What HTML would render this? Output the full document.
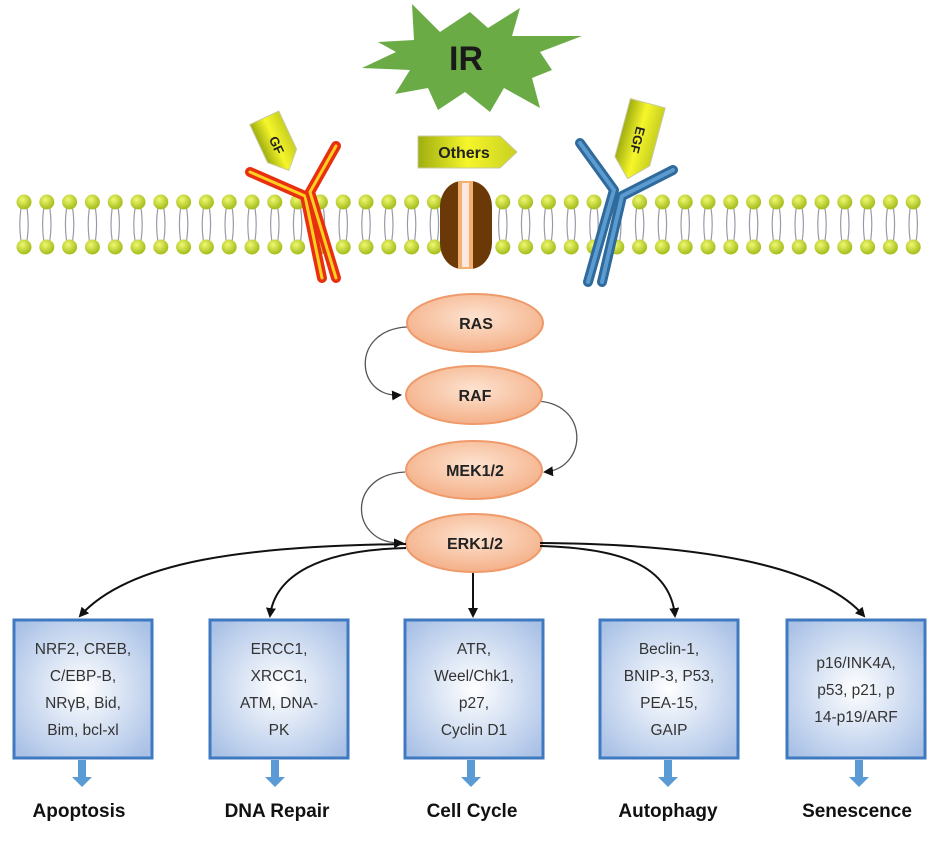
<!DOCTYPE html>
<html><head><meta charset="utf-8"><style>
html,body{margin:0;padding:0;background:#fff;}
svg{display:block;}
text{font-family:"Liberation Sans",sans-serif;}
</style></head><body>
<svg width="945" height="846" viewBox="0 0 945 846" xmlns="http://www.w3.org/2000/svg">
<defs>
<radialGradient id="bx" cx="50%" cy="50%" r="65%"><stop offset="0" stop-color="#ffffff"/><stop offset="1" stop-color="#a9c1e6"/></radialGradient>
<radialGradient id="el" cx="50%" cy="40%" r="60%"><stop offset="0" stop-color="#fde3d0"/><stop offset="1" stop-color="#f4b088"/></radialGradient>
<radialGradient id="hd" cx="40%" cy="35%" r="60%"><stop offset="0" stop-color="#f0f870"/><stop offset="1" stop-color="#a8c020"/></radialGradient>
<linearGradient id="tag" x1="0" y1="0" x2="1" y2="0"><stop offset="0" stop-color="#9fae10"/><stop offset="0.5" stop-color="#f6f62a"/><stop offset="1" stop-color="#c8d020"/></linearGradient>
<marker id="ar" markerWidth="10" markerHeight="10" refX="8" refY="5" orient="auto" markerUnits="userSpaceOnUse"><path d="M0,0 L10,5 L0,10 z" fill="#111"/></marker>
</defs>

<!-- IR star -->
<polygon points="412,4 440,32 470,12 488,28 520,8 512,36 582,36 540,52 552,70 532,78 540,108 504,88 490,112 465,92 438,110 428,88 395,94 410,70 362,68 396,52 378,42 414,40" fill="#6aab46"/>
<text x="466" y="70" font-size="34" font-weight="bold" text-anchor="middle" fill="#1a1a1a">IR</text>

<!-- membrane tails -->
<g stroke="#9a9aa8" stroke-width="1.2" fill="none">
<g id="tails">
</g>
</g>
<g id="mem"></g>
<script>
(function(){
var ns="http://www.w3.org/2000/svg",t=document.getElementById('tails'),m=document.getElementById('mem');
for(var x=24;x<=925;x+=22.8){
 for(var d=-3;d<=3;d+=6){var p=document.createElementNS(ns,'path');p.setAttribute('d','M'+(x+d)+',208 Q'+(x+d*1.8)+',224 '+(x+d)+',241');t.appendChild(p);}
 [202,247].forEach(function(y){var c=document.createElementNS(ns,'ellipse');c.setAttribute('cx',x);c.setAttribute('cy',y);c.setAttribute('rx',7.5);c.setAttribute('ry',7.5);c.setAttribute('fill','url(#hd)');m.appendChild(c);});
}
})();
</script>

<!-- GF receptor -->
<g fill="none" stroke-linecap="round" stroke-linejoin="round">
<polyline points="250,172 305,196 322,278" stroke="#e83010" stroke-width="10"/>
<polyline points="250,172 305,196 322,278" stroke="#ffd020" stroke-width="3"/>
<polyline points="336,146 310,192 336,278" stroke="#e83010" stroke-width="10"/>
<polyline points="336,146 310,192 336,278" stroke="#ffd020" stroke-width="3"/>
</g>
<g transform="translate(277,145) rotate(-25)">
<polygon points="-16,-30 16,-30 16,12 0,28 -16,12" fill="url(#tag)" stroke="#c8c8a0" stroke-width="1"/>
<text x="0" y="0" font-size="13" font-weight="bold" text-anchor="middle" transform="rotate(90)" dy="5" fill="#222">GF</text>
</g>

<!-- Others tag -->
<polygon points="418,136 500,136 517,152 500,168 418,168" fill="url(#tag)" stroke="#c8c8a0" stroke-width="1"/>
<text x="464" y="158" font-size="16" font-weight="bold" text-anchor="middle" fill="#222">Others</text>

<!-- channel -->
<rect x="440" y="181" width="52" height="88" rx="22" ry="26" fill="#6b3808"/>
<rect x="458" y="181" width="15" height="88" fill="#f2b070"/>
<rect x="462" y="183" width="7" height="84" fill="#fde8e0"/>

<!-- EGF receptor -->
<g fill="none" stroke-linecap="round" stroke-linejoin="round">
<polyline points="580,143 614,190 588,282" stroke="#2f6a9c" stroke-width="10"/>
<polyline points="580,143 614,190 588,282" stroke="#5b9bd0" stroke-width="4"/>
<polyline points="673,170 622,196 602,282" stroke="#2f6a9c" stroke-width="10"/>
<polyline points="673,170 622,196 602,282" stroke="#5b9bd0" stroke-width="4"/>
</g>
<g transform="translate(638,140) rotate(15)">
<polygon points="-18,-38 18,-38 18,22 0,40 -18,22" fill="url(#tag)" stroke="#c8c8a0" stroke-width="1"/>
<text x="0" y="0" font-size="13" font-weight="bold" text-anchor="middle" transform="rotate(90)" dy="5" fill="#222">EGF</text>
</g>

<!-- cascade connectors -->
<g fill="none" stroke="#555" stroke-width="1.3">
<path d="M407,327 C350,330 355,398 400,395" marker-end="url(#ar)"/>
<path d="M535,401 C590,402 588,468 545,472" marker-end="url(#ar)"/>
<path d="M405,472 C345,475 350,545 402,543" marker-end="url(#ar)"/>
</g>

<!-- ellipses -->
<g fill="url(#el)" stroke="#ef9a6a" stroke-width="2">
<ellipse cx="475" cy="323" rx="68" ry="29"/>
<ellipse cx="474" cy="395" rx="68" ry="29"/>
<ellipse cx="474" cy="470" rx="68" ry="29"/>
<ellipse cx="474" cy="543" rx="68" ry="29"/>
</g>
<g font-size="16" font-weight="bold" text-anchor="middle" fill="#222">
<text x="476" y="329">RAS</text><text x="475" y="401">RAF</text>
<text x="475" y="476">MEK1/2</text><text x="475" y="549">ERK1/2</text>
</g>

<!-- branches -->
<g fill="none" stroke="#111" stroke-width="2">
<path d="M406,544 C250,546 130,560 80,616" marker-end="url(#ar)"/>
<path d="M406,548 C320,550 275,575 270,616" marker-end="url(#ar)"/>
<path d="M473,573 L473,616" marker-end="url(#ar)"/>
<path d="M540,546 C620,548 670,565 675,616" marker-end="url(#ar)"/>
<path d="M540,543 C700,544 820,565 864,616" marker-end="url(#ar)"/>
</g>

<!-- boxes -->
<g fill="url(#bx)" stroke="#3f7ac0" stroke-width="3">
<rect x="14" y="620" width="138" height="138"/>
<rect x="210" y="620" width="138" height="138"/>
<rect x="405" y="620" width="138" height="138"/>
<rect x="600" y="620" width="138" height="138"/>
<rect x="787" y="620" width="138" height="138"/>
</g>
<g font-size="15.5" text-anchor="middle" fill="#333">
<text x="83" y="654">NRF2, CREB,</text><text x="83" y="681">C/EBP-B,</text><text x="83" y="708">NRγB, Bid,</text><text x="83" y="735">Bim, bcl-xl</text>
<text x="279" y="654">ERCC1,</text><text x="279" y="681">XRCC1,</text><text x="279" y="708">ATM, DNA-</text><text x="279" y="735">PK</text>
<text x="474" y="654">ATR,</text><text x="474" y="681">Weel/Chk1,</text><text x="474" y="708">p27,</text><text x="474" y="735">Cyclin D1</text>
<text x="669" y="654">Beclin-1,</text><text x="669" y="681">BNIP-3, P53,</text><text x="669" y="708">PEA-15,</text><text x="669" y="735">GAIP</text>
<text x="856" y="668">p16/INK4A,</text><text x="856" y="695">p53, p21, p</text><text x="856" y="722">14-p19/ARF</text>
</g>

<!-- blue arrows -->
<g fill="#5b9bd5">
<path d="M78,760 h8 v17 h6 l-10,10 l-10,-10 h6 z"/>
<path d="M271,760 h8 v17 h6 l-10,10 l-10,-10 h6 z"/>
<path d="M467,760 h8 v17 h6 l-10,10 l-10,-10 h6 z"/>
<path d="M664,760 h8 v17 h6 l-10,10 l-10,-10 h6 z"/>
<path d="M855,760 h8 v17 h6 l-10,10 l-10,-10 h6 z"/>
</g>
<g font-size="19" font-weight="bold" text-anchor="middle" fill="#111">
<text x="79" y="817">Apoptosis</text>
<text x="277" y="817">DNA Repair</text>
<text x="472" y="817">Cell Cycle</text>
<text x="668" y="817">Autophagy</text>
<text x="857" y="817">Senescence</text>
</g>
</svg>
</body></html>
